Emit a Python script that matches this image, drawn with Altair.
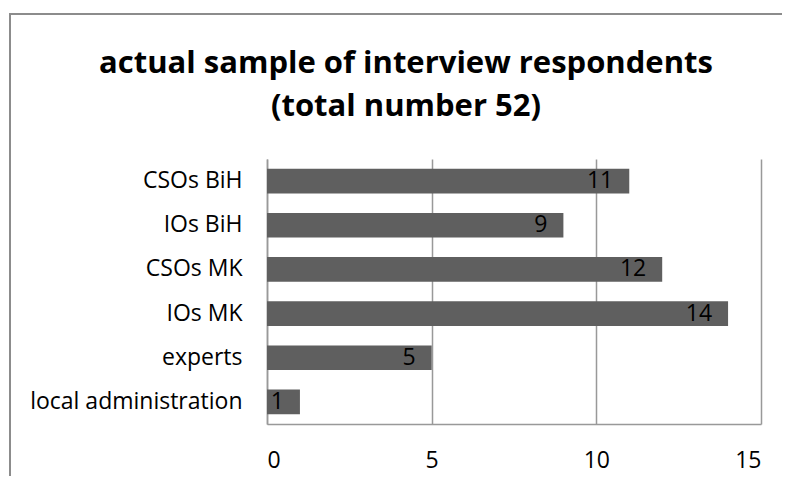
import altair as alt
import pandas as pd

categories = ["CSOs BiH", "IOs BiH", "CSOs MK", "IOs MK", "experts", "local administration"]
values = [11, 9, 12, 14, 5, 1]
x_ticks = [0, 5, 10, 15]
title_lines = ["actual sample of interview respondents", "(total number 52)"]

df = pd.DataFrame({"category": categories, "value": values})

FONT = "Open Sans"
GRAY = "#999999"

x_enc = alt.X("value:Q", scale=alt.Scale(domain=[0, 15], nice=False),
              axis=alt.Axis(values=x_ticks, title=None, grid=True, gridColor=GRAY, gridWidth=1.5,
                            domainColor=GRAY, domainWidth=1.5, ticks=False, labelPadding=25,
                            labelFontSize=23, labelFont=FONT, labelColor="#000000"))
y_enc = alt.Y("category:N", sort=categories,
              scale=alt.Scale(paddingInner=0.44, paddingOuter=0.22),
              axis=alt.Axis(title=None, ticks=False, domainColor=GRAY, domainWidth=1.5,
                            labelPadding=25, labelFontSize=23, labelFont=FONT,
                            labelColor="#000000", labelLimit=400))

bars = alt.Chart(df).mark_bar(color="#5f5f5f").encode(x=x_enc, y=y_enc)

labels = alt.Chart(df).mark_text(align="right", baseline="middle", dx=-16, fontSize=23,
                                 font=FONT, color="#000000").encode(
    x="value:Q", y=alt.Y("category:N", sort=categories), text="value:Q")

frame = alt.Chart(df).mark_rect(filled=False, stroke="#8c8c8c", strokeWidth=1.5).encode(
    x=alt.value(-257), x2=alt.value(900), y=alt.value(-145), y2=alt.value(600))

chart = alt.layer(frame, bars, labels).properties(
    width=494, height=265,
    title=alt.TitleParams(title_lines, font=FONT, fontSize=31, fontWeight="bold",
                          color="#000000", anchor="middle", frame="group", dx=-108,
                          offset=0, dy=110, lineHeight=43),
    autosize=alt.AutoSizeParams(type="none"),
    padding={"left": 259, "top": 151, "right": 21, "bottom": 52},
).configure_view(stroke=None)

chart.save("out.html", embed_options={"renderer": "svg", "actions": False})
